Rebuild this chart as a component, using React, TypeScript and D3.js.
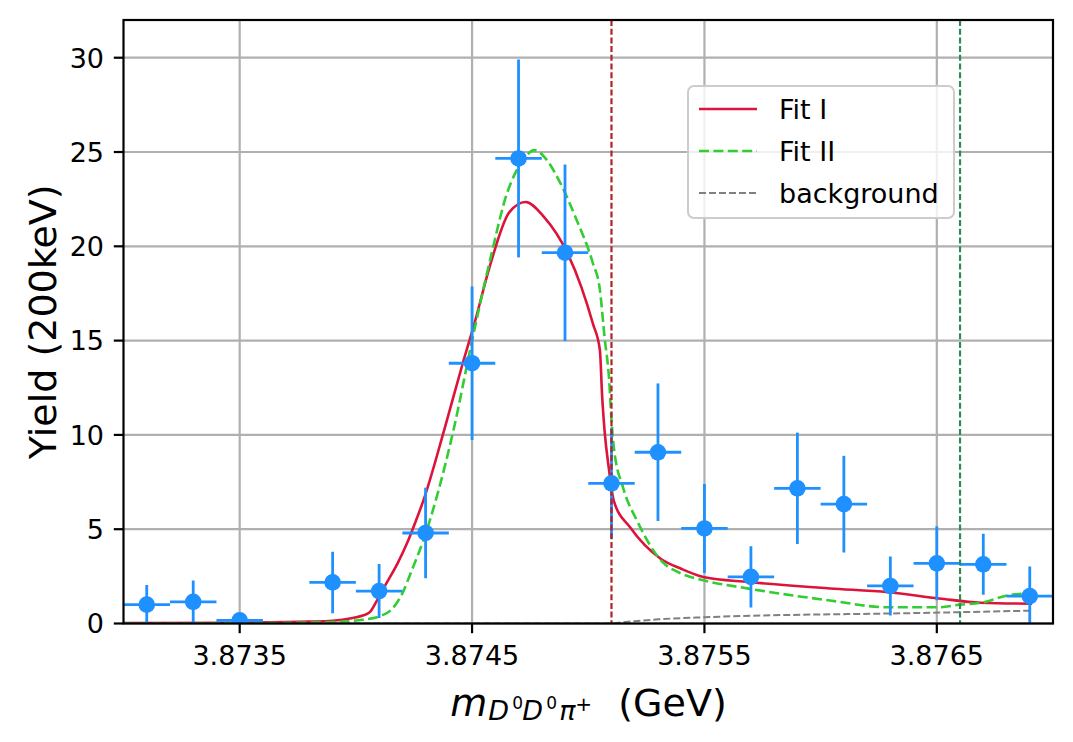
import React from "react";
import * as d3 from "d3";

// ---------- data ----------
const binCenters = [3.8731, 3.8733, 3.8735, 3.8739, 3.8741, 3.8743, 3.8745, 3.8747, 3.8749, 3.8751, 3.8753, 3.8755, 3.8757, 3.8759, 3.8761, 3.8763, 3.8765, 3.8767, 3.8769];
const yields = [1.0, 1.15, 0.17, 2.18, 1.72, 4.8, 13.8, 24.66, 19.66, 7.43, 9.08, 5.04, 2.47, 7.17, 6.33, 1.99, 3.19, 3.14, 1.45];
const yieldErrors = [1.04, 1.13, 0.4, 1.63, 1.43, 2.4, 4.07, 5.25, 4.68, 2.93, 3.65, 2.36, 1.62, 2.95, 2.56, 1.56, 1.96, 1.62, 1.57];
const binHalfWidth = 0.0001;

const fitIX = [3.873, 3.8735, 3.8738, 3.8739, 3.87398, 3.87403, 3.87406, 3.87409, 3.87413, 3.87418, 3.87422, 3.87426, 3.87429, 3.87438, 3.87446, 3.87451, 3.87458, 3.87466, 3.87473, 3.87481, 3.87491, 3.87497, 3.87502, 3.87505, 3.87506, 3.87507, 3.87509, 3.87511, 3.87518, 3.87531, 3.8754, 3.8755, 3.87569, 3.87604, 3.87629, 3.87651, 3.87669, 3.87691];
const fitIY = [0.02, 0.04, 0.1, 0.15, 0.28, 0.42, 0.6, 1.2, 2.1, 3.2, 4.25, 5.5, 6.5, 10.25, 13.8, 15.9, 19.1, 21.8, 22.35, 21.55, 19.65, 17.85, 15.9, 14.5, 12.0, 10.25, 8.1, 6.5, 5.1, 3.45, 2.9, 2.45, 2.2, 1.86, 1.66, 1.33, 1.1, 1.05];

const fitIIX = [3.873, 3.8735, 3.8739, 3.87403, 3.87411, 3.87415, 3.8742, 3.87424, 3.87429, 3.87442, 3.8745, 3.87458, 3.87465, 3.87471, 3.87477, 3.87482, 3.87488, 3.87495, 3.87502, 3.87505, 3.87507, 3.87509, 3.8751, 3.87511, 3.87515, 3.87521, 3.87532, 3.8754, 3.8755, 3.87569, 3.87604, 3.87629, 3.87651, 3.8766, 3.87669, 3.87681, 3.87689];
const fitIIY = [0.0, 0.01, 0.08, 0.2, 0.42, 0.7, 1.6, 2.8, 4.4, 10.25, 15.0, 19.4, 22.8, 24.4, 25.1, 24.6, 23.35, 21.4, 19.1, 17.7, 15.2, 12.9, 10.8, 9.35, 7.2, 5.45, 3.25, 2.65, 2.28, 1.85, 1.22, 0.86, 0.86, 1.0, 1.1, 1.5, 1.6];

const bgX = [3.873, 3.8751, 3.87513, 3.8752, 3.8753, 3.8755, 3.8757, 3.876, 3.8763, 3.8766, 3.8769];
const bgY = [0, 0, 0.04, 0.12, 0.22, 0.33, 0.41, 0.48, 0.53, 0.6, 0.68];

const thresholdI = 3.8751;
const thresholdII = 3.8766;

const xTicks = [3.8735, 3.8745, 3.8755, 3.8765];
const yTicks = [0, 5, 10, 15, 20, 25, 30];

const legendLabels = ["Fit I", "Fit II", "background"];

// ---------- layout ----------
const W = 1073;
const H = 742;
const left = 123.5, right = 1053, top = 20, bottom = 623.5;
const FONT = "DejaVu Sans, Verdana, sans-serif";
const TICK_FS = 27;
const LABEL_FS = 38;

const BLUE = "#1e90ff";
const RED = "#dc143c";
const GREEN = "#32cd32";

export default function App() {
  const x = d3.scaleLinear().domain([3.873, 3.877]).range([left, right]);
  const y = d3.scaleLinear().domain([0, 32]).range([bottom, top]);

  const line = d3
    .line<[number, number]>()
    .x((d) => x(d[0]))
    .y((d) => y(d[1]))
    .curve(d3.curveMonotoneX);

  const fitI = line(fitIX.map((v, i) => [v, fitIY[i]]))!;
  const fitII = line(fitIIX.map((v, i) => [v, fitIIY[i]]))!;
  const bg = line(bgX.map((v, i) => [v, bgY[i]]))!;

  const cx = (left + right) / 2;
  const cy = (top + bottom) / 2;
  const lw = 2.6;

  const legX = 688, legY = 86, legW = 266, legH = 132;
  const rowY = (i: number) => 109 + i * 42;
  const legendStyles = [
    { stroke: RED, dash: undefined as string | undefined, w: lw },
    { stroke: GREEN, dash: "10,4.4", w: lw },
    { stroke: "#808080", dash: "7,3", w: 2 },
  ];

  return (
    <svg
      width={W}
      height={H}
      style={{ position: "absolute", left: 0, top: 0, background: "#fff" }}
      fontFamily={FONT}
    >
      <defs>
        <clipPath id="plotClip">
          <rect x={left} y={top} width={right - left} height={bottom - top} />
        </clipPath>
      </defs>
      <rect x={0} y={0} width={W} height={H} fill="#fff" />

      {/* grid */}
      <g stroke="#b0b0b0" strokeWidth={2.2}>
        {xTicks.map((t) => (
          <line key={"gx" + t} x1={x(t)} x2={x(t)} y1={top} y2={bottom} />
        ))}
        {yTicks.map((t) => (
          <line key={"gy" + t} x1={left} x2={right} y1={y(t)} y2={y(t)} />
        ))}
      </g>

      <g clipPath="url(#plotClip)">
        <path d={fitI} fill="none" stroke={RED} strokeWidth={lw} strokeLinejoin="round" />
        <path d={fitII} fill="none" stroke={GREEN} strokeWidth={lw} strokeDasharray="10,4.4" />
        <path d={bg} fill="none" stroke="#808080" strokeWidth={2} strokeDasharray="7,3" />

        {/* error bars */}
        <g stroke={BLUE} strokeWidth={2.8}>
          {binCenters.map((c, i) => (
            <g key={"eb" + i}>
              <line x1={x(c)} x2={x(c)} y1={y(yields[i] - yieldErrors[i])} y2={y(yields[i] + yieldErrors[i])} />
              <line x1={x(c - binHalfWidth)} x2={x(c + binHalfWidth)} y1={y(yields[i])} y2={y(yields[i])} />
            </g>
          ))}
        </g>

        {/* thresholds */}
        <line x1={x(thresholdI)} x2={x(thresholdI)} y1={top} y2={bottom} stroke="#b22222" strokeWidth={2.2} strokeDasharray="6,2.7" />
        <line x1={x(thresholdII)} x2={x(thresholdII)} y1={top} y2={bottom} stroke="#2e8b57" strokeWidth={2.2} strokeDasharray="6,2.7" />

        {/* markers */}
        {binCenters.map((c, i) => (
          <circle key={"m" + i} cx={x(c)} cy={y(yields[i])} r={8.3} fill={BLUE} />
        ))}
      </g>

      {/* spines */}
      <rect x={left} y={top} width={right - left} height={bottom - top} fill="none" stroke="#000" strokeWidth={2.2} />

      {/* x ticks */}
      {xTicks.map((t) => (
        <g key={"xt" + t}>
          <line x1={x(t)} x2={x(t)} y1={bottom} y2={bottom + 9.7} stroke="#000" strokeWidth={2.2} />
          <text x={x(t)} y={665} fontSize={TICK_FS} textAnchor="middle" fill="#000">
            {t.toFixed(4)}
          </text>
        </g>
      ))}

      {/* y ticks */}
      {yTicks.map((t) => (
        <g key={"yt" + t}>
          <line x1={left - 9.7} x2={left} y1={y(t)} y2={y(t)} stroke="#000" strokeWidth={2.2} />
          <text x={left - 19.5} y={y(t) + 0.364 * TICK_FS} fontSize={TICK_FS} textAnchor="end" fill="#000">
            {t}
          </text>
        </g>
      ))}

      {/* x label */}
      <g fill="#000">
        <text x={cx - 138} y={716} fontSize={LABEL_FS} fontStyle="italic">m</text>
        <text x={cx - 100} y={720} fontSize={27} fontStyle="italic">D</text>
        <text x={cx - 76} y={709} fontSize={17}>0</text>
        <text x={cx - 66} y={720} fontSize={27} fontStyle="italic">D</text>
        <text x={cx - 42} y={709} fontSize={17}>0</text>
        <text x={cx - 29} y={720} fontSize={27} fontStyle="italic">π</text>
        <text x={cx - 13} y={711} fontSize={20}>+</text>
        <text x={cx + 30} y={716} fontSize={LABEL_FS}>(GeV)</text>
      </g>

      {/* y label */}
      <text
        transform={`translate(56,${cy}) rotate(-90)`}
        fontSize={LABEL_FS}
        textAnchor="middle"
        fill="#000"
      >
        Yield (200keV)
      </text>

      {/* legend */}
      <g>
        <rect x={legX} y={legY} width={legW} height={legH} rx={6} ry={6} fill="#fff" fillOpacity={0.8} stroke="#cccccc" strokeWidth={2} />
        {legendLabels.map((lab, i) => (
          <g key={lab}>
            <line
              x1={699}
              x2={757}
              y1={rowY(i)}
              y2={rowY(i)}
              stroke={legendStyles[i].stroke}
              strokeWidth={legendStyles[i].w}
              strokeDasharray={legendStyles[i].dash}
            />
            <text x={779} y={rowY(i) + 10.3} fontSize={TICK_FS} fill="#000">
              {lab}
            </text>
          </g>
        ))}
      </g>
    </svg>
  );
}
